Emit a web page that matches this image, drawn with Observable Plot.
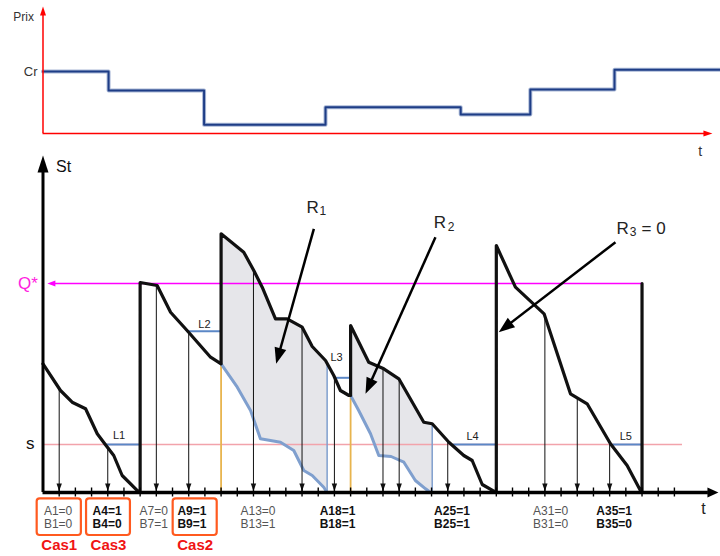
<!DOCTYPE html>
<html>
<head>
<meta charset="utf-8">
<script src="https://cdn.jsdelivr.net/npm/d3@7"></script>
<script src="https://cdn.jsdelivr.net/npm/@observablehq/plot@0.6"></script>
<style>
html,body{margin:0;padding:0;background:#fff;}
#wrap{position:relative;width:720px;height:556px;overflow:hidden;}
#top,#bottom{position:absolute;left:0;}
#top{top:0;} #bottom{top:150px;}
</style>
</head>
<body>
<div id="wrap"><div id="bottom"></div><div id="top"></div></div>
<script>
// ================= DATA =================
// Top chart: price steps (time t, price level)
const priceT = [0, 4.05, 9.95, 17.45, 25.8, 30.1, 35.3, 41.85];
const priceV = [62, 43, 8.7, 26.3, 19, 44, 63.7, 63.7];
const CR = 62;

// Bottom chart: stock levels
const QSTAR = 209;
const S_LEVEL = 48;
// stock trajectory [t, St] (vertical jumps = orders received)
const stock = [
  [0,128.7],[1.08,102],[1.8,90.3],[2.63,83.7],[3.35,58.7],[3.86,47.7],[4.37,37],[4.89,17],[5.92,0.3],[6,0],
  [6,210],[7.05,207],[7.88,180.3],[8.9,162],[10.35,135.3],[11,128.7],
  [11,258.7],[12.4,240.3],[13.02,222],[13.54,205.3],[14.36,173.7],[15.08,173.7],[16.01,165.3],[16.63,146],[17.45,132],[17.96,117],[18.37,102],[18.9,97],[19,97],
  [19,167],[20.12,130.3],[21.05,123.7],[21.98,113.7],[23.52,70.3],[24.04,68.7],[25.07,50.3],[25.99,37],[26.51,32],[27.13,8],[27.95,0.3],[28,0],
  [28,247],[29.18,205.3],[30.95,178.7],[32.58,98.7],[33.61,88.7],[35.05,48.7],[36.08,27],[36.9,2],[37,0],
  [37,209]
];
// stock without the extra order (blue curves)
const buffer1 = [[11,128.7],[12,105.3],[12.82,82],[13.43,53.7],[14.67,50.3],[15.49,42],[16.11,22],[16.63,17],[17.34,5.3],[17.55,0]];
const buffer2 = [[19,97],[19.5,82],[20.23,58.7],[20.74,37],[21.5,36],[22.29,30.3],[23,12],[23.63,3.7],[23.93,0]];
const regionEnds = [17.55, 24.04];
// review instants with arrows
const eventT = [1,4,7,9,13,16,18,21,22,25,31,33,35];
const tickT = d3.range(1, 40);
// reorder lines L1..L5
const reorderLines = [
  {label:"L1", t1:3.9,   t2:6,  s:S_LEVEL, lt:4.7,  ls:57},
  {label:"L2", t1:8.9,   t2:11, s:161.3,   lt:9.97, ls:168.5},
  {label:"L3", t1:18.07, t2:19, s:114.7,   lt:18.13,ls:135.3},
  {label:"L4", t1:25.35, t2:28, s:S_LEVEL, lt:26.53,ls:56},
  {label:"L5", t1:35.2,  t2:37, s:S_LEVEL, lt:36.0, ls:56}
];
// event labels under the axis
const eventLabels = [
  {t:0.93,  a:"A1=0",  b:"B1=0",  bold:false},
  {t:3.96,  a:"A4=1",  b:"B4=0",  bold:true},
  {t:6.84,  a:"A7=0",  b:"B7=1",  bold:false},
  {t:9.2,   a:"A9=1",  b:"B9=1",  bold:true},
  {t:13.28, a:"A13=0", b:"B13=1", bold:false},
  {t:18.19, a:"A18=1", b:"B18=1", bold:true},
  {t:25.26, a:"A25=1", b:"B25=1", bold:true},
  {t:31.35, a:"A31=0", b:"B31=0", bold:false},
  {t:35.28, a:"A35=1", b:"B35=0", bold:true}
];
const cases = [
  {label:"Cas1", t1:-0.36, t2:2.37},
  {label:"Cas3", t1:2.69,  t2:5.40},
  {label:"Cas2", t1:8.04,  t2:10.76}
];
// R annotations
const rLabels = [
  {main:"R", sub:"1", rest:"",    t:16.28, s:285.3, st:17.08, ss:281,   from:[16.73,263.7], to:[14.4,128.7]},
  {main:"R", sub:"2", rest:"",    t:24.14, s:269.7, st:25.0,  ss:265,   from:[24.24,255.3], to:[19.92,98.7]},
  {main:"R", sub:"3", rest:"= 0", t:35.42, s:263.7, st:36.24, ss:260.3, from:[35.36,250.3], to:[28.15,160.3], rt:36.97}
];

// ================= LAYOUT =================
const W = 720, H_TOP = 150, H_BOT = 406;
const X_DOMAIN = [-2.625, 41.847];
const Y_BOT = [-64, 342];
const Y_TOP = [-17, 133];
const FONT = '"Liberation Sans", Arial, Helvetica, sans-serif';
const kBot = {x: W/(X_DOMAIN[1]-X_DOMAIN[0]), y: H_BOT/(Y_BOT[1]-Y_BOT[0])};
const kTop = {x: kBot.x, y: H_TOP/(Y_TOP[1]-Y_TOP[0])};
const ROW_A = -19, ROW_B = -31.5, ROW_CAS = -53, BOX_Y1 = -43, BOX_Y2 = -6.3;

function stockAt(t){
  for (let i = 0; i < stock.length-1; i++){
    const [t0,s0] = stock[i], [t1,s1] = stock[i+1];
    if (t1 > t0 && t >= t0 && t <= t1) return s0 + (s1-s0)*(t-t0)/(t1-t0);
  }
  return 0;
}
// arrow head polygon (tip, pixel direction with y up)
function headPts(id, tip, dir, w, L, k){
  const len = Math.hypot(dir[0], dir[1]); const ux = dir[0]/len, uy = dir[1]/len;
  const bx = -ux*L, by = -uy*L, px = -uy*w, py = ux*w;
  return [[0,0],[bx+px,by+py],[bx-px,by-py]].map(([a,b]) => ({id, t: tip[0]+a/k.x, s: tip[1]+b/k.y}));
}
function regionPoly(id, buffer, end){
  const start = buffer[0][0];
  let iTop = stock.findIndex(([t,s], i) => t === start && i > 0 && stock[i-1][0] === start);
  const pts = [stock[iTop]];
  for (let i = iTop+1; i < stock.length && stock[i][0] < end; i++) pts.push(stock[i]);
  pts.push([end, stockAt(end)], [end, 0]);
  const low = buffer.slice().reverse();
  return pts.concat(low).map(([t,s]) => ({id, t, s}));
}

const regions = [...regionPoly("r1", buffer1, regionEnds[0]), ...regionPoly("r2", buffer2, regionEnds[1])];
const orderPoints = [buffer1[0], buffer2[0]].map(([t,s]) => ({t, s}));

const thinHeads = eventT.flatMap((t,i) => headPts("e"+i, [t, 1.5], [0,-1], 2.7, 7.5, kBot));
const axisHeads = [
  ...headPts("ay", [0, 337], [0,1], 5.5, 17, kBot),
  ...headPts("ax", [41.72, 0], [1,0], 5, 11, kBot)
];
const qHead = headPts("q", [0.27, QSTAR], [-1,0], 3, 8, kBot);
const pointerData = rLabels.map(d => {
  const dx = (d.to[0]-d.from[0])*kBot.x, dy = (d.to[1]-d.from[1])*kBot.y, len = Math.hypot(dx,dy);
  const sh = 12;
  return {x1:d.from[0], y1:d.from[1], x2:d.to[0]-dx/len*sh/kBot.x, y2:d.to[1]-dy/len*sh/kBot.y, dir:[dx,dy], to:d.to};
});
const pointerHeads = pointerData.flatMap((d,i) => headPts("p"+i, d.to, d.dir, 6, 16, kBot));

const abRows = eventLabels.flatMap(d => [{t:d.t, s:ROW_A, text:d.a, bold:d.bold}, {t:d.t, s:ROW_B, text:d.b, bold:d.bold}]);
const axisLabels = [
  {t:1.27, s:326, text:"St", fill:"#111", size:16},
  {t:40.8, s:-16, text:"t", fill:"#222", size:16},
  {t:-0.93, s:QSTAR, text:"Q*", fill:"#ff1ee0", size:17},
  {t:-0.79, s:S_LEVEL+1, text:"s", fill:"#111", size:17}
];

const bottom = Plot.plot({
  width: W, height: H_BOT, margin: 0,
  x: {domain: X_DOMAIN, axis: null},
  y: {domain: Y_BOT, axis: null},
  style: {background: "transparent", overflow: "visible", fontFamily: FONT},
  marks: [
    Plot.line(regions, {x:"t", y:"s", z:"id", fill:"#e6e6ea", stroke:"none"}),
    Plot.ruleY([S_LEVEL], {x1:0, x2:39.5, stroke:"#f2a3ab", strokeWidth:1.3}),
    Plot.ruleY([QSTAR], {x1:0.5, x2:37, stroke:"#ff00ff", strokeWidth:1.6}),
    Plot.line(qHead, {x:"t", y:"s", z:"id", fill:"#ff00ff", stroke:"none"}),
    Plot.ruleX(orderPoints, {x:"t", y1:0, y2:"s", stroke:"#e8b44e", strokeWidth:1.8}),
    Plot.ruleX(regionEnds, {x:d=>d, y1:0, y2:d=>stockAt(d), stroke:"#7f9fce", strokeWidth:1.5}),
    Plot.line(buffer1, {x:d=>d[0], y:d=>d[1], stroke:"#7f9fce", strokeWidth:3, strokeLinejoin:"round"}),
    Plot.line(buffer2, {x:d=>d[0], y:d=>d[1], stroke:"#7f9fce", strokeWidth:3, strokeLinejoin:"round"}),
    Plot.ruleY(reorderLines, {y:"s", x1:"t1", x2:"t2", stroke:"#5b87c6", strokeWidth:2}),
    Plot.ruleX(eventT, {x:d=>d, y1:0, y2:d=>stockAt(d), stroke:"#111", strokeWidth:1}),
    Plot.line(thinHeads, {x:"t", y:"s", z:"id", fill:"#111", stroke:"none"}),
    Plot.line(stock, {x:d=>d[0], y:d=>d[1], stroke:"#111", strokeWidth:3.2, strokeLinejoin:"round"}),
    Plot.ruleX([0], {y1:0, y2:325, stroke:"#000", strokeWidth:3}),
    Plot.ruleY([0], {x1:0, x2:41.1, stroke:"#000", strokeWidth:3.5}),
    Plot.ruleX(tickT, {x:d=>d, y1:-4.5, y2:4.5, stroke:"#000", strokeWidth:1.4}),
    Plot.line(axisHeads, {x:"t", y:"s", z:"id", fill:"#000", stroke:"none"}),
    Plot.link(pointerData, {x1:"x1", y1:"y1", x2:"x2", y2:"y2", stroke:"#000", strokeWidth:2.5}),
    Plot.line(pointerHeads, {x:"t", y:"s", z:"id", fill:"#000", stroke:"none"}),
    // texts
    Plot.text(reorderLines, {x:"lt", y:"ls", text:"label", fontSize:11, fill:"#222", lineAnchor:"middle"}),
    Plot.text(rLabels, {x:"t", y:"s", text:"main", fontSize:17, fill:"#222", textAnchor:"start", lineAnchor:"middle"}),
    Plot.text(rLabels, {x:"st", y:"ss", text:"sub", fontSize:12, fill:"#222", textAnchor:"start", lineAnchor:"middle"}),
    Plot.text(rLabels.filter(d => d.rest), {x:"rt", y:"s", text:"rest", fontSize:17, fill:"#222", textAnchor:"start", lineAnchor:"middle"}),
    Plot.text(axisLabels, {x:"t", y:"s", text:"text", fill:"fill", fontSize:"size", lineAnchor:"middle"}),
    Plot.text(abRows.filter(d => !d.bold), {x:"t", y:"s", text:"text", fontSize:12, fill:"#555", lineAnchor:"middle"}),
    Plot.text(abRows.filter(d => d.bold), {x:"t", y:"s", text:"text", fontSize:12, fontWeight:"bold", fill:"#111", lineAnchor:"middle"}),
    Plot.rect(cases, {x1:"t1", x2:"t2", y1:BOX_Y1, y2:BOX_Y2, fill:"none", stroke:"#ff5a1f", strokeWidth:2.2, rx:3}),
    Plot.text(cases, {x:d => (d.t1+d.t2)/2, y:ROW_CAS, text:"label", fontSize:15, fontWeight:"bold", fill:"#f01414", lineAnchor:"middle"})
  ]
});
document.getElementById("bottom").appendChild(bottom);

// ---- top chart ----
const priceData = priceT.map((t,i) => ({t, p: priceV[i]}));
const topHeads = [
  ...headPts("ty", [0, 127], [0,1], 3, 9, kTop),
  ...headPts("tx", [41.35, 0], [1,0], 3, 9, kTop)
];
const topLabels = [
  {t:-1.2, p:116, text:"Prix", size:12},
  {t:40.6, p:-18, text:"t", size:14}
];
const crLabel = [{t:-0.34, p:CR, text:"Cr"}];
const topPlot = Plot.plot({
  width: W, height: H_TOP, margin: 0,
  x: {domain: X_DOMAIN, axis: null},
  y: {domain: Y_TOP, axis: null},
  style: {background: "transparent", overflow: "visible", fontFamily: FONT},
  marks: [
    Plot.line(priceData, {x:"t", y:"p", curve:"step-after", stroke:"#a9b8d6", strokeWidth:4}),
    Plot.line(priceData, {x:"t", y:"p", curve:"step-after", stroke:"#1e3d86", strokeWidth:2}),
    Plot.ruleX([0], {y1:0, y2:119, stroke:"#ff0000", strokeWidth:1.5}),
    Plot.ruleY([0], {x1:0, x2:40.9, stroke:"#ff0000", strokeWidth:1.5}),
    Plot.line(topHeads, {x:"t", y:"s", z:"id", fill:"#ff0000", stroke:"none"}),
    Plot.text(topLabels, {x:"t", y:"p", text:"text", fontSize:"size", fill:"#333", lineAnchor:"middle"}),
    Plot.text(crLabel, {x:"t", y:"p", text:"text", fontSize:13, fill:"#333", textAnchor:"end", lineAnchor:"middle"})
  ]
});
document.getElementById("top").appendChild(topPlot);
</script>
</body>
</html>
